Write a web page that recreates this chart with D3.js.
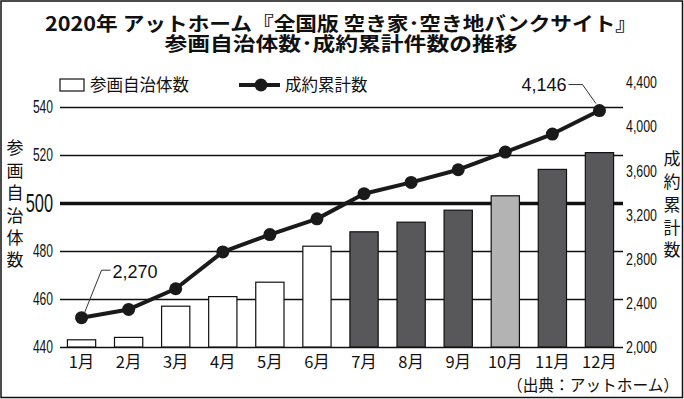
<!DOCTYPE html>
<html>
<head>
<meta charset="utf-8">
<script src="https://cdn.jsdelivr.net/npm/d3@7"></script>
<style>
  body { margin: 0; background: #fff; }
  svg { display: block; }
  .jp { font-family: 'Noto Sans CJK JP', sans-serif; }
  .num { font-family: 'Liberation Sans', Arial, sans-serif; }
</style>
</head>
<body>
<script>
// data
const months = ['1月', '2月', '3月', '4月', '5月', '6月', '7月', '8月', '9月', '10月', '11月', '12月']
const municipalities = [443, 444, 457, 461, 467, 482, 488, 492, 497, 503, 514, 521]
const contracts = [2270, 2345, 2532, 2866, 3023, 3165, 3393, 3495, 3610, 3770, 3933, 4146]
const leftTicks = [440, 460, 480, 500, 520, 540]
const rightTicks = [2000, 2400, 2800, 3200, 3600, 4000, 4400]

const titleLines = ['2020年 アットホーム『全国版 空き家･空き地バンクサイト』', '参画自治体数･成約累計件数の推移']
const leftTitle = '参画自治体数'
const rightTitle = '成約累計数'

const W = 684
const H = 399
const plotLeft = 60
const plotRight = 623

const svg = d3.select('body').append('svg').attr('width', W).attr('height', H)

svg.append('rect')
  .attr('x', 1).attr('y', 1).attr('width', W - 2.5).attr('height', H - 2.5)
  .attr('fill', '#fff').attr('stroke', '#111').attr('stroke-width', 1.5)

// title (one text element, two lines)
svg.append('text')
  .attr('class', 'jp')
  .attr('text-anchor', 'middle')
  .attr('font-size', 19.5)
  .attr('font-weight', 700)
  .attr('fill', '#111')
  .selectAll('tspan')
  .data(titleLines)
  .join('tspan')
  .attr('x', 341)
  .attr('y', (d, i) => i === 0 ? 31 : 51)
  .attr('textLength', (d, i) => i === 0 ? 592 : 353)
  .attr('lengthAdjust', 'spacingAndGlyphs')
  .text(d => d)

const x = d3.scaleBand().domain(months).range([58, 623]).paddingInner(0.4).paddingOuter(0.2)
const y = d3.scaleLinear().domain([440, 540]).range([347, 107])
const y2 = d3.scaleLinear().domain([2000, 4400]).range([347.5, 82.5])

// condensed digits: squeeze horizontally, keep the anchor point
const squeeze = (sel, s, pad) => sel
  .attr('transform', `scale(${s},1)`)
  .attr('x', pad / s)

// grid + left axis
const leftAxis = svg.append('g')
  .attr('transform', `translate(${plotLeft},0)`)
  .call(d3.axisLeft(y).tickValues(leftTicks).tickSize(-(plotRight - plotLeft)).tickPadding(7))
leftAxis.select('.domain').remove()
leftAxis.selectAll('.tick line')
  .attr('stroke', '#111')
  .attr('stroke-width', d => d === 500 ? 3.5 : 1.3)
leftAxis.selectAll('.tick text')
  .attr('class', 'num')
  .attr('fill', '#111')
  .attr('font-size', d => d === 500 ? 26 : 17.5)
leftAxis.selectAll('.tick text').filter(d => d !== 500).call(squeeze, 0.69, -7)
leftAxis.selectAll('.tick text').filter(d => d === 500).call(squeeze, 0.63, -7)

// right axis labels
const rightAxis = svg.append('g')
  .attr('transform', `translate(${plotRight},0)`)
  .call(d3.axisRight(y2).tickValues(rightTicks).tickSize(0).tickPadding(3).tickFormat(d3.format(',')))
rightAxis.select('.domain').remove()
rightAxis.selectAll('.tick text')
  .attr('class', 'num')
  .attr('fill', '#111')
  .attr('font-size', 16.5)
  .call(squeeze, 0.75, 3)

// month labels
const bottomAxis = svg.append('g')
  .attr('transform', 'translate(0,347)')
  .call(d3.axisBottom(x).tickSize(0).tickPadding(9))
bottomAxis.select('.domain').remove()
bottomAxis.selectAll('.tick text')
  .attr('class', 'jp')
  .attr('fill', '#111')
  .attr('font-size', 16.5)

// bars
const barFill = i => i < 6 ? '#fff' : (i === 9 ? '#b3b3b3' : '#58585a')
svg.append('g')
  .selectAll('rect')
  .data(municipalities)
  .join('rect')
  .attr('x', (d, i) => x(months[i]))
  .attr('y', d => y(d))
  .attr('width', x.bandwidth())
  .attr('height', d => y(440) - y(d))
  .attr('fill', (d, i) => barFill(i))
  .attr('stroke', '#111')
  .attr('stroke-width', 1.2)

// cumulative line
const cx = i => x(months[i]) + x.bandwidth() / 2
const line = d3.line().x((d, i) => cx(i)).y(d => y2(d))
svg.append('path')
  .datum(contracts)
  .attr('d', line)
  .attr('fill', 'none')
  .attr('stroke', '#1a1a1a')
  .attr('stroke-width', 4)
  .attr('stroke-linejoin', 'round')
svg.append('g')
  .selectAll('circle')
  .data(contracts)
  .join('circle')
  .attr('cx', (d, i) => cx(i))
  .attr('cy', d => y2(d))
  .attr('r', 6.5)
  .attr('fill', '#1a1a1a')

// value callouts
const first = { x: cx(0), y: y2(contracts[0]) }
const last = { x: cx(11), y: y2(contracts[11]) }
const leader = d3.line()
svg.append('path')
  .attr('d', leader([[first.x + 3, first.y - 5], [first.x + 20, first.y - 47.5], [first.x + 29, first.y - 47.5]]))
  .attr('fill', 'none').attr('stroke', '#333').attr('stroke-width', 1)
svg.append('text')
  .attr('x', first.x + 31).attr('y', first.y - 45.5).attr('dy', '0.35em')
  .attr('font-family', 'Liberation Sans, sans-serif').attr('font-size', 18).attr('fill', '#111')
  .text(d3.format(',')(contracts[0]))
svg.append('path')
  .attr('d', leader([[last.x - 3.5, last.y - 7], [last.x - 17, last.y - 26], [last.x - 31, last.y - 26]]))
  .attr('fill', 'none').attr('stroke', '#333').attr('stroke-width', 1)
svg.append('text')
  .attr('x', last.x - 33).attr('y', last.y - 25.5).attr('dy', '0.35em')
  .attr('text-anchor', 'end')
  .attr('font-family', 'Liberation Sans, sans-serif').attr('font-size', 18).attr('fill', '#111')
  .text(d3.format(',')(contracts[11]))

// legend
const legend = svg.append('g').attr('class', 'jp')
legend.append('rect')
  .attr('x', 60).attr('y', 79).attr('width', 24).attr('height', 12)
  .attr('fill', '#fff').attr('stroke', '#111').attr('stroke-width', 1.2)
legend.append('text')
  .attr('x', 90).attr('y', 85).attr('dy', '0.35em')
  .attr('font-size', 16.5).attr('fill', '#111')
  .text(leftTitle)
legend.append('line')
  .attr('x1', 239).attr('x2', 280).attr('y1', 85).attr('y2', 85)
  .attr('stroke', '#1a1a1a').attr('stroke-width', 4)
legend.append('circle')
  .attr('cx', 261).attr('cy', 85).attr('r', 6.5).attr('fill', '#1a1a1a')
legend.append('text')
  .attr('x', 285).attr('y', 85).attr('dy', '0.35em')
  .attr('font-size', 16.5).attr('fill', '#111')
  .text(rightTitle)

// vertical axis titles
svg.append('text')
  .attr('class', 'jp')
  .attr('x', 15).attr('y', 139.5)
  .style('writing-mode', 'vertical-rl')
  .attr('letter-spacing', 5.4)
  .attr('font-size', 17)
  .attr('fill', '#111')
  .text(leftTitle)

svg.append('text')
  .attr('class', 'jp')
  .attr('x', 672).attr('y', 150.5)
  .style('writing-mode', 'vertical-rl')
  .attr('letter-spacing', 5.7)
  .attr('font-size', 17)
  .attr('fill', '#111')
  .text(rightTitle)

// source
svg.append('text')
  .attr('class', 'jp')
  .attr('x', 679).attr('y', 385).attr('dy', '0.35em')
  .attr('text-anchor', 'end')
  .attr('font-size', 16)
  .attr('textLength', 172)
  .attr('lengthAdjust', 'spacingAndGlyphs')
  .attr('fill', '#111')
  .text('（出典：アットホーム）')
</script>
</body>
</html>
